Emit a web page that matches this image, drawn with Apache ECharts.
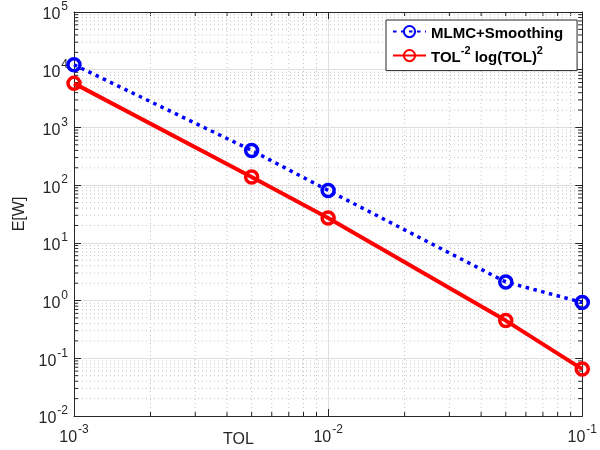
<!DOCTYPE html>
<html>
<head>
<meta charset="utf-8">
<script src="https://cdn.jsdelivr.net/npm/echarts@6/dist/echarts.min.js"></script>
<style>
  html, body { margin: 0; padding: 0; background: #fff; }
  #chart { width: 600px; height: 450px; }
</style>
</head>
<body>
<div id="chart"></div>
<script>
// Tolerance values (x) and expected work (y) on log-log axes
const tol = [0.001, 0.005, 0.01, 0.05, 0.1];
const mlmcSmoothing = [12200, 400, 81, 2.1, 0.93];
const tolRate = [5800, 138, 27, 0.45, 0.065];
const seriesNames = ['MLMC+Smoothing', 'TOL^-2 log(TOL)^2'];

const xRange = [1e-3, 1e-1];
const yRange = [1e-2, 1e5];

// Minor grid positions at 2..9 times each power of ten
function minorValues(lo, hi) {
  const out = [];
  for (let e = Math.round(Math.log10(lo)); e < Math.round(Math.log10(hi)); e++) {
    for (let k = 2; k <= 9; k++) out.push(k * Math.pow(10, e));
  }
  return out;
}
const xMinor = minorValues(xRange[0], xRange[1]);
const yMinor = minorValues(yRange[0], yRange[1]);

const axisColor = '#262626';
const font = 'Liberation Sans, Arial, Helvetica, sans-serif';

function powLabel(v) {
  const e = Math.round(Math.log10(v));
  return '{b|10}{s|' + e + '}';
}
const labelRich = {
  b: { fontSize: 16, fontFamily: font, color: axisColor, lineHeight: 22, verticalAlign: 'bottom' },
  s: { fontSize: 12, fontFamily: font, color: axisColor, lineHeight: 22, verticalAlign: 'top', padding: [0, 0, 0, 1] }
};

const chart = echarts.init(document.getElementById('chart'));

const gridLines = [];
xMinor.forEach(v => gridLines.push([v, 1, 0]));
yMinor.forEach(v => gridLines.push([0.1, v, 1]));

chart.setOption({
  animation: false,
  backgroundColor: '#fff',
  grid: { left: 74, right: 13, top: 12, bottom: 34, containLabel: false },
  xAxis: [
    {
      type: 'log', logBase: 10, min: xRange[0], max: xRange[1], interval: 1,
      position: 'bottom',
      axisLine: { show: true, lineStyle: { color: axisColor, width: 1 } },
      axisTick: { inside: true, length: 7, lineStyle: { color: axisColor } },
      axisLabel: { formatter: powLabel, rich: labelRich, margin: 8 },
      splitLine: { show: true, lineStyle: { color: '#dedede', width: 1 } }
    },
    {
      type: 'log', logBase: 10, min: xRange[0], max: xRange[1], interval: 1,
      position: 'top',
      axisLine: { show: true, onZero: false, lineStyle: { color: axisColor, width: 1 } },
      axisTick: { inside: true, length: 7, lineStyle: { color: axisColor } },
      axisLabel: { show: false },
      splitLine: { show: false }
    }
  ],
  yAxis: [
    {
      type: 'log', logBase: 10, min: yRange[0], max: yRange[1], interval: 1,
      position: 'left',
      axisLine: { show: true, lineStyle: { color: axisColor, width: 1 } },
      axisTick: { inside: true, length: 7, lineStyle: { color: axisColor } },
      axisLabel: { formatter: powLabel, rich: labelRich, margin: 6 },
      splitLine: { show: true, lineStyle: { color: '#dedede', width: 1 } }
    },
    {
      type: 'log', logBase: 10, min: yRange[0], max: yRange[1], interval: 1,
      position: 'right',
      axisLine: { show: true, onZero: false, lineStyle: { color: axisColor, width: 1 } },
      axisTick: { inside: true, length: 7, lineStyle: { color: axisColor } },
      axisLabel: { show: false },
      splitLine: { show: false }
    }
  ],
  legend: {
    orient: 'vertical',
    left: 386, top: 20,
    padding: [5, 14, 5, 6],
    itemGap: 4,
    itemWidth: 33,
    itemHeight: 14,
    backgroundColor: '#fff',
    borderColor: axisColor,
    borderWidth: 1,
    borderRadius: 0,
    data: seriesNames,
    formatter: function (name) {
      return name === seriesNames[0]
        ? '{t|MLMC+Smoothing}'
        : '{t|TOL}{s|-2}{t| log(TOL)}{s|2}';
    },
    textStyle: {
      rich: {
        t: { fontSize: 15, fontWeight: 'bold', fontFamily: font, color: '#000', lineHeight: 20, verticalAlign: 'bottom' },
        s: { fontSize: 11, fontWeight: 'bold', fontFamily: font, color: '#000', lineHeight: 20, verticalAlign: 'top' }
      }
    }
  },
  graphic: [
    {
      type: 'text', left: 223, top: 432,
      style: { text: 'TOL', font: '16px ' + font, fill: axisColor }
    },
    {
      type: 'text', x: 12, y: 214, rotation: Math.PI / 2,
      style: { text: 'E[W]', font: '16px ' + font, fill: axisColor, align: 'center', verticalAlign: 'top' }
    }
  ],
  series: [
    {
      // dotted minor grid plus inward minor ticks on all four sides
      type: 'custom',
      xAxisIndex: 0, yAxisIndex: 0,
      silent: true,
      z: 0,
      data: gridLines,
      renderItem: function (params, api) {
        const vertical = api.value(2) === 0;
        const v = vertical ? api.value(0) : api.value(1);
        let p0, p1;
        if (vertical) {
          p0 = api.coord([v, yRange[0]]);
          p1 = api.coord([v, yRange[1]]);
        } else {
          p0 = api.coord([xRange[0], v]);
          p1 = api.coord([xRange[1], v]);
        }
        const tick = 4;
        const tickStyle = { stroke: axisColor, lineWidth: 1 };
        const children = [
          {
            type: 'line',
            shape: { x1: p0[0], y1: p0[1], x2: p1[0], y2: p1[1] },
            style: { stroke: '#c4c4c4', lineWidth: 1, lineDash: [1, 3] }
          }
        ];
        if (vertical) {
          children.push({ type: 'line', shape: { x1: p0[0], y1: p0[1], x2: p0[0], y2: p0[1] - tick }, style: tickStyle });
          children.push({ type: 'line', shape: { x1: p1[0], y1: p1[1], x2: p1[0], y2: p1[1] + tick }, style: tickStyle });
        } else {
          children.push({ type: 'line', shape: { x1: p0[0], y1: p0[1], x2: p0[0] + tick, y2: p0[1] }, style: tickStyle });
          children.push({ type: 'line', shape: { x1: p1[0], y1: p1[1], x2: p1[0] - tick, y2: p1[1] }, style: tickStyle });
        }
        return { type: 'group', children: children };
      }
    },
    {
      name: seriesNames[0],
      type: 'line',
      data: tol.map((t, i) => [t, mlmcSmoothing[i]]),
      symbol: 'circle',
      symbolSize: 12,
      z: 3,
      lineStyle: { color: '#0000ff', width: 3.5, type: [3.5, 4.5], cap: 'butt' },
      itemStyle: { color: 'rgba(255,255,255,0)', borderColor: '#0000ff', borderWidth: 3.5 }
    },
    {
      name: seriesNames[1],
      type: 'line',
      data: tol.map((t, i) => [t, tolRate[i]]),
      symbol: 'circle',
      symbolSize: 12,
      z: 2,
      lineStyle: { color: '#ff0000', width: 4 },
      itemStyle: { color: 'rgba(255,255,255,0)', borderColor: '#ff0000', borderWidth: 3.5 }
    }
  ]
});
</script>
</body>
</html>
